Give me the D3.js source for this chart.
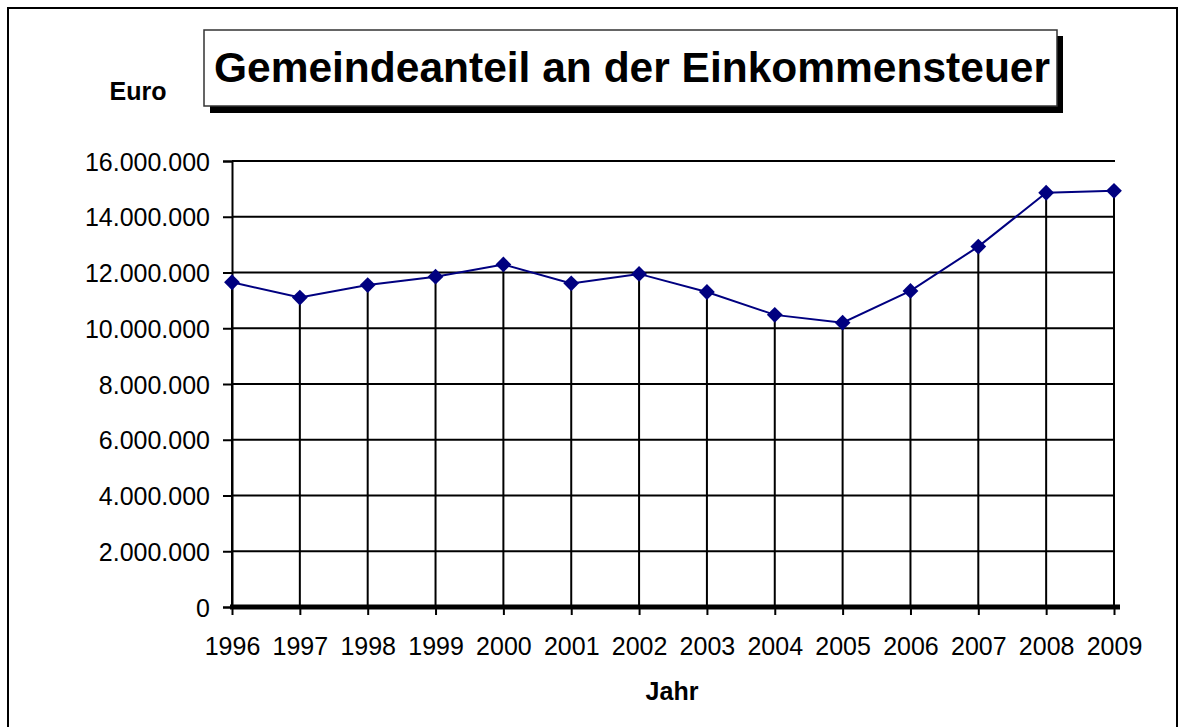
<!DOCTYPE html>
<html>
<head>
<meta charset="utf-8">
<script src="https://cdn.jsdelivr.net/npm/d3@7"></script>
<style>
    body { margin: 0; background: #ffffff; }
    text { font-family: "Liberation Sans", Arial, sans-serif; fill: #000000; }
</style>
</head>
<body>
<div id="dataviz"></div>
<script>
"use strict";

// Data
var years = ["1996", "1997", "1998", "1999", "2000", "2001", "2002", "2003", "2004", "2005", "2006", "2007", "2008", "2009"];
var values = [11650000, 11100000, 11550000, 11850000, 12290000, 11610000, 11950000, 11300000, 10480000, 10200000, 11340000, 12930000, 14860000, 14930000];
var yTicks = [0, 2000000, 4000000, 6000000, 8000000, 10000000, 12000000, 14000000, 16000000];

var titleText = "Gemeindeanteil an der Einkommensteuer";
var yLabelText = "Euro";
var xLabelText = "Jahr";

var fullWidth = 1180;
var fullHeight = 727;

var margin = {
    top: 161,
    right: 66,
    bottom: 120,
    left: 232
};
var width = 1114 - margin.left;
var height = 607 - margin.top;

// -----------------------------------------------------------------------
// ------------------------ Objects Creation -----------------------------
// -----------------------------------------------------------------------
var svg = d3.select("#dataviz").append("svg")
    .attr("width", fullWidth)
    .attr("height", fullHeight);

// outer frame
svg.append("rect")
    .attr("x", 8)
    .attr("y", 8)
    .attr("width", 1169)
    .attr("height", 725)
    .attr("fill", "none")
    .attr("stroke", "#000")
    .attr("stroke-width", 2);

// title box with shadow
svg.append("rect")
    .attr("x", 210)
    .attr("y", 36)
    .attr("width", 853)
    .attr("height", 77)
    .attr("fill", "#000");

svg.append("rect")
    .attr("x", 204)
    .attr("y", 30)
    .attr("width", 853)
    .attr("height", 76)
    .attr("fill", "#fff")
    .attr("stroke", "#333")
    .attr("stroke-width", 1.5);

svg.append("text")
    .attr("x", 632)
    .attr("y", 82)
    .attr("text-anchor", "middle")
    .attr("font-size", 42.5)
    .attr("font-weight", "bold")
    .text(titleText);

svg.append("text")
    .attr("x", 138)
    .attr("y", 100)
    .attr("text-anchor", "middle")
    .attr("font-size", 25)
    .attr("font-weight", "bold")
    .text(yLabelText);

svg.append("text")
    .attr("x", 672)
    .attr("y", 700)
    .attr("text-anchor", "middle")
    .attr("font-size", 25)
    .attr("font-weight", "bold")
    .text(xLabelText);

var g = svg.append("g")
    .attr("transform", "translate(" + margin.left + "," + margin.top + ")");

// -----------------------------------------------------------------------
// -------------------------- Scales Domain ------------------------------
// -----------------------------------------------------------------------
var xScale = d3.scalePoint().domain(years).range([0, width]);
var yScale = d3.scaleLinear().domain([0, 16000000]).range([height, 0]);

var fmt = function (v) {
    return d3.format(",")(v).replace(/,/g, ".");
};

// horizontal gridlines
g.selectAll("line.grid")
    .data(yTicks.filter(function (d) { return d > 0; }))
    .enter().append("line")
    .attr("class", "grid")
    .attr("x1", 0)
    .attr("x2", width + 1)
    .attr("y1", function (d) { return yScale(d); })
    .attr("y2", function (d) { return yScale(d); })
    .attr("stroke", "#000")
    .attr("stroke-width", 2);

// y axis
var yAxis = d3.axisLeft(yScale)
    .tickValues(yTicks)
    .tickSize(9)
    .tickPadding(13)
    .tickFormat(fmt);

var yAxisG = g.append("g")
    .attr("class", "yaxis")
    .call(yAxis);
yAxisG.select(".domain").attr("stroke", "#000").attr("stroke-width", 2);
yAxisG.selectAll(".tick line").attr("stroke", "#000").attr("stroke-width", 2);
yAxisG.selectAll(".tick text")
    .attr("font-size", 25)
    .attr("font-family", "Liberation Sans, Arial, sans-serif")
    .attr("fill", "#000")
    .attr("dy", "0.36em");

// drop lines
g.selectAll("line.drop")
    .data(values)
    .enter().append("line")
    .attr("class", "drop")
    .attr("x1", function (d, i) { return xScale(years[i]); })
    .attr("x2", function (d, i) { return xScale(years[i]); })
    .attr("y1", function (d) { return yScale(d); })
    .attr("y2", height)
    .attr("stroke", "#000")
    .attr("stroke-width", 2);

// x axis
var xAxis = d3.axisBottom(xScale)
    .tickSize(8)
    .tickPadding(22);

var xAxisG = g.append("g")
    .attr("class", "xaxis")
    .attr("transform", "translate(0," + height + ")")
    .call(xAxis);
xAxisG.select(".domain").remove();
xAxisG.selectAll(".tick line").attr("stroke", "#000").attr("stroke-width", 2);
xAxisG.selectAll(".tick text")
    .attr("font-size", 25)
    .attr("font-family", "Liberation Sans, Arial, sans-serif")
    .attr("fill", "#000");

// thick baseline
g.append("line")
    .attr("x1", -2)
    .attr("x2", width + 6)
    .attr("y1", yScale(0))
    .attr("y2", yScale(0))
    .attr("stroke", "#000")
    .attr("stroke-width", 5);

// series line
var line = d3.line()
    .x(function (d, i) { return xScale(years[i]); })
    .y(function (d) { return yScale(d); });

g.append("path")
    .datum(values)
    .attr("d", line)
    .attr("fill", "none")
    .attr("stroke", "#000080")
    .attr("stroke-width", 2);

// diamond markers
var diamond = d3.symbol().type(d3.symbolSquare).size(125);
g.selectAll("path.marker")
    .data(values)
    .enter().append("path")
    .attr("class", "marker")
    .attr("d", diamond)
    .attr("transform", function (d, i) {
        return "translate(" + xScale(years[i]) + "," + yScale(d) + ")rotate(45)";
    })
    .attr("fill", "#000080");
</script>
</body>
</html>
